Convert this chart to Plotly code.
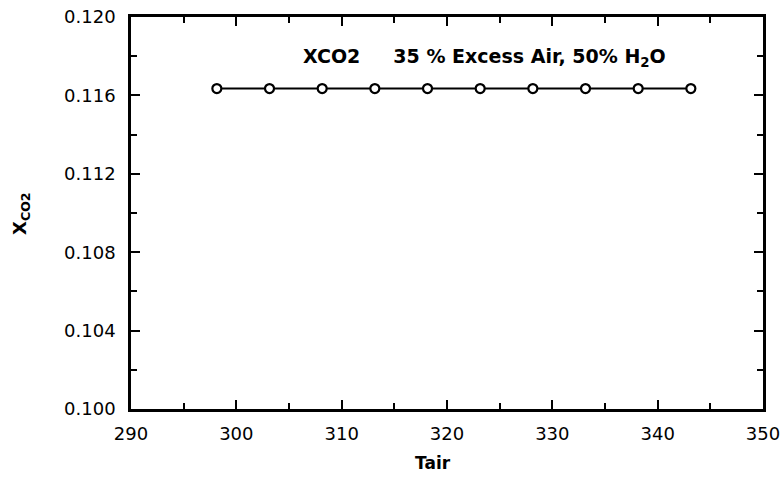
import plotly.graph_objects as go

# Air temperature (K) and CO2 mole fraction of the products
tair = [298.15, 303.15, 308.15, 313.15, 318.15, 323.15, 328.15, 333.15, 338.15, 343.15]
xco2 = [0.11635, 0.11635, 0.11635, 0.11635, 0.11635, 0.11635, 0.11635, 0.11635, 0.11635, 0.11635]

x_ticks = [290, 300, 310, 320, 330, 340, 350]
y_ticks = [0.100, 0.104, 0.108, 0.112, 0.116, 0.120]

TICK_FONT = dict(family="DejaVu Sans", size=18, color="black")
BOLD_FONT = "DejaVu Sans"

fig = go.Figure()
fig.add_trace(go.Scatter(
    x=tair, y=xco2, mode="lines+markers",
    line=dict(color="black", width=2),
    marker=dict(symbol="circle", size=9, color="white",
                line=dict(color="black", width=2.2)),
    showlegend=False, cliponaxis=False,
))

axis_common = dict(
    showline=True, linecolor="black", linewidth=2.5, mirror="allticks",
    ticks="inside", ticklen=9, tickwidth=2, tickcolor="black",
    showgrid=False, zeroline=False, tickfont=TICK_FONT,
    ticklabeloverflow="allow", automargin=False,
)

fig.update_xaxes(
    range=[290, 350], tickvals=x_ticks, ticktext=[str(v) for v in x_ticks],
    minor=dict(dtick=5, ticks="inside", ticklen=6, tickwidth=2, tickcolor="black"),
    ticklabelstandoff=7,
    **axis_common,
)
fig.update_yaxes(
    range=[0.100, 0.120], tickvals=y_ticks, ticktext=[f"{v:.3f}" for v in y_ticks],
    minor=dict(dtick=0.002, ticks="inside", ticklen=6, tickwidth=2, tickcolor="black"),
    ticklabelstandoff=9,
    **axis_common,
)

# plot-area geometry in pixels, used to place the free-standing titles
L, R, T, B = 131, 763, 17, 409

fig.add_annotation(
    x=(433 - L) / (R - L), y=-(463 - B) / (B - T), xref="paper", yref="paper",
    showarrow=False, text="<b>Tair</b>",
    font=dict(family=BOLD_FONT, size=17, color="black"),
    xanchor="center", yanchor="middle",
)
fig.add_annotation(
    x=(21 - L) / (R - L), y=0.5, xref="paper", yref="paper", showarrow=False, textangle=-90,
    text="<b>X<sub>CO2</sub></b>", font=dict(family=BOLD_FONT, size=18, color="black"),
    xanchor="center", yanchor="middle",
)

# series label inside the plot
fig.add_annotation(
    x=(484.5 - L) / (R - L), y=(B - 57) / (B - T), xref="paper", yref="paper",
    showarrow=False,
    text="<b>XCO2&nbsp;&nbsp;&nbsp;&nbsp;&nbsp;35 % Excess Air, 50% H<sub>2</sub>O</b>",
    font=dict(family=BOLD_FONT, size=19, color="black"),
    xanchor="center", yanchor="middle",
)

fig.update_layout(
    width=782, height=478,
    margin=dict(l=L, r=782 - R, t=T, b=478 - B, autoexpand=False),
    paper_bgcolor="white", plot_bgcolor="white",
)

fig.write_html("out.html")
